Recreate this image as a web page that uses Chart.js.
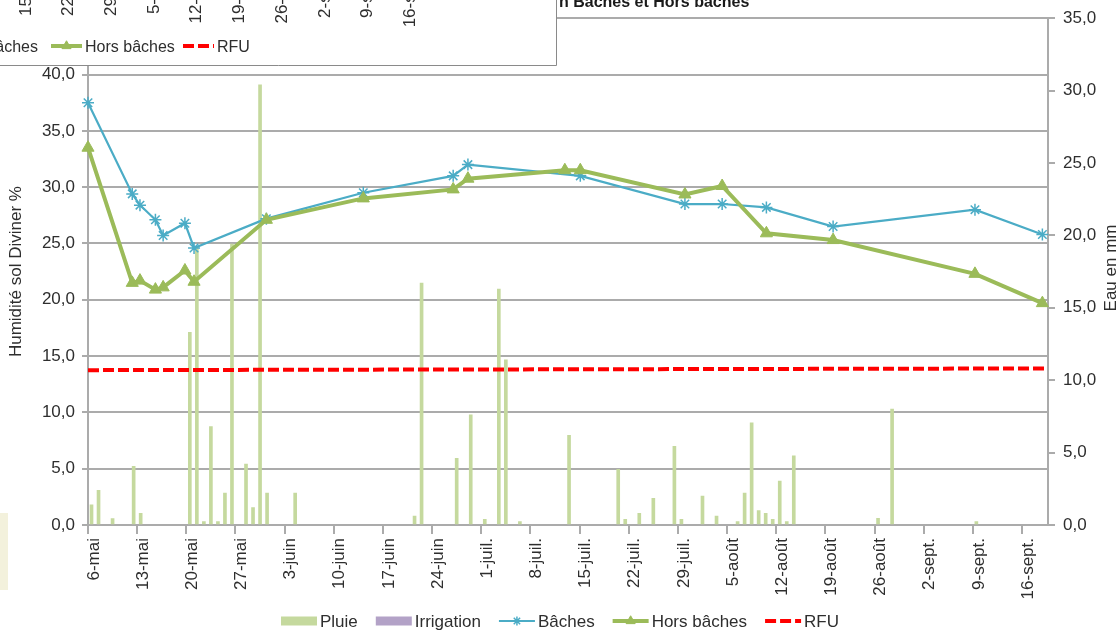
<!DOCTYPE html>
<html lang="fr">
<head>
<meta charset="utf-8">
<title>Humidité du sol - Bâches et Hors bâches</title>
<script src="https://cdn.jsdelivr.net/npm/chart.js@4.4.1/dist/chart.umd.min.js"></script>
<style>
  html, body { margin: 0; padding: 0; background: #fff; }
  #wrap { position: relative; width: 1120px; height: 630px; overflow: hidden; }
</style>
</head>
<body>
<div id="wrap"><canvas id="humChart" width="1120" height="630"></canvas></div>
<script>
// Axe des dates : jours comptés depuis le 6 mai
const tickLabels = ["6-mai", "13-mai", "20-mai", "27-mai", "3-juin", "10-juin", "17-juin", "24-juin", "1-juil.", "8-juil.",
  "15-juil.", "22-juil.", "29-juil.", "5-août", "12-août", "19-août", "26-août", "2-sept.", "9-sept.", "16-sept."];
const lastDay = 136.7;

// Pluie journalière (mm) - axe de droite
const pluieJour = [0, 1, 3, 6, 7, 14, 15, 16, 17, 18, 19, 20, 22, 23, 24, 25, 29, 46, 47, 52, 54, 56, 58, 59, 61, 68,
  75, 76, 78, 80, 83, 84, 87, 89, 92, 93, 94, 95, 96, 97, 98, 99, 100, 112, 114, 126];
const pluieMm = [1.4, 2.4, 0.45, 4.05, 0.8, 13.3, 19.2, 0.23, 6.8, 0.23, 2.2, 19.4, 4.2, 1.2, 30.4, 2.2, 2.2, 0.62, 16.7, 4.6, 7.6, 0.39, 16.3, 11.4, 0.23, 6.2,
  3.84, 0.39, 0.8, 1.84, 5.44, 0.39, 2.0, 0.62, 0.23, 2.2, 7.05, 1.0, 0.8, 0.39, 3.03, 0.23, 4.78, 0.46, 8.0, 0.23];
// pas d'irrigation sur la période
const irrigationJour = [];
const irrigationMm = [];

// Humidité Diviner (%) - axe de gauche
const bachesJour = [0, 6.3, 7.4, 9.6, 10.7, 13.8, 15.1, 25.4, 39.2, 52.0, 54.1, 70.1, 85.0, 90.3, 96.6, 106.1, 126.3, 135.9];
const baches = [37.5, 29.4, 28.4, 27.1, 25.7, 26.8, 24.6, 27.2, 29.5, 31.0, 32.0, 31.0, 28.5, 28.5, 28.2, 26.5, 28.0, 25.8];
const horsJour = [0, 6.3, 7.4, 9.6, 10.7, 13.8, 15.1, 25.4, 39.2, 52.0, 54.1, 67.9, 70.1, 85.0, 90.3, 96.6, 106.1, 126.3, 135.9];
const horsBaches = [33.5, 21.5, 21.7, 20.9, 21.1, 22.6, 21.6, 27.1, 29.0, 29.8, 30.75, 31.5, 31.5, 29.35, 30.1, 25.9, 25.3, 22.3, 19.7];
const rfuJour = [0, 136.3];
const rfu = [13.75, 13.9];

// bout de l'autre graphique collé par-dessus (coin haut gauche)
const overlayLabels = ["15-juil.", "22-juil.", "29-juil.", "5-août", "12-août", "19-août", "26-août", "2-sept.", "9-sept.", "16-sept."];

const FONT = '"Liberation Sans", Arial, sans-serif';
const TEXT = '#2e2e2e';
const GRID = '#ababab';

Chart.defaults.font.family = FONT;
Chart.defaults.color = TEXT;

const virgule = v => v.toFixed(1).replace('.', ',');
const pts = (xs, ys) => xs.map((x, i) => ({ x: x, y: ys[i] }));
// les barres sont centrées sur la journée
const barPts = (xs, ys) => xs.map((x, i) => ({ x: x + 0.5, y: ys[i] }));

function drawKey(ctx, ds, x, y, w) {
  ctx.save();
  if (ds.type === 'line') {
    ctx.strokeStyle = ds.borderColor;
    ctx.lineWidth = ds.borderWidth;
    ctx.setLineDash(ds.borderDash || []);
    ctx.beginPath(); ctx.moveTo(x, y); ctx.lineTo(x + w, y); ctx.stroke();
    ctx.setLineDash([]);
    if (ds.pointRadius) {
      ctx.fillStyle = ds.pointBackgroundColor;
      ctx.strokeStyle = ds.pointBorderColor;
      ctx.lineWidth = ds.pointBorderWidth;
      Chart.helpers.drawPoint(ctx, { pointStyle: ds.pointStyle, radius: ds.pointRadius * 0.75, borderWidth: ds.pointBorderWidth, rotation: 0 }, x + w / 2, y);
    }
  } else {
    ctx.fillStyle = ds.backgroundColor;
    ctx.fillRect(x, y - 4.5, w, 9);
  }
  ctx.restore();
}

const decorPlugin = {
  id: 'decor',
  afterDraw(chart) {
    const ctx = chart.ctx;
    const sets = chart.data.datasets;
    ctx.save();

    // légende du bas
    ctx.font = '17px ' + FONT;
    const symW = 36, txtGap = 3, itemGap = 18;
    let total = 0;
    sets.forEach((ds, i) => { total += symW + txtGap + ctx.measureText(ds.label).width + (i ? itemGap : 0); });
    let x = chart.width / 2 - total / 2;
    sets.forEach(ds => {
      drawKey(ctx, ds, x, 621, symW);
      x += symW + txtGap;
      ctx.fillStyle = TEXT; ctx.textAlign = 'left'; ctx.textBaseline = 'alphabetic';
      ctx.fillText(ds.label, x, 627);
      x += ctx.measureText(ds.label).width + itemGap;
    });

    // titre de l'axe de droite
    ctx.save();
    ctx.translate(1111, 268);
    ctx.rotate(-Math.PI / 2);
    ctx.textAlign = 'center'; ctx.textBaseline = 'middle';
    ctx.fillText('Eau en mm', 0, 0);
    ctx.restore();

    // titre coupé en haut
    ctx.font = 'bold 16px ' + FONT;
    ctx.fillStyle = '#1a1a1a';
    ctx.textAlign = 'left';
    ctx.fillText('n Bâches et Hors bâches', 559, 7);

    // cadre blanc de l'autre graphique
    ctx.fillStyle = '#ffffff';
    ctx.fillRect(0, 0, 557, 66);
    ctx.strokeStyle = '#8a8a8a'; ctx.lineWidth = 1;
    ctx.beginPath(); ctx.moveTo(0, 65.5); ctx.lineTo(556.5, 65.5); ctx.lineTo(556.5, 0); ctx.stroke();

    ctx.font = '17px ' + FONT;
    ctx.fillStyle = TEXT;
    const endY = 16 - ctx.measureText(overlayLabels[0]).width;
    overlayLabels.forEach((t, i) => {
      ctx.save();
      ctx.translate(26 + i * 42.7, endY);
      ctx.rotate(-Math.PI / 2);
      ctx.textAlign = 'right'; ctx.textBaseline = 'middle';
      ctx.fillText(t, 0, 0);
      ctx.restore();
    });

    ctx.font = '16px ' + FONT;
    ctx.textAlign = 'right';
    ctx.fillText(sets[2].label, 38, 52);
    drawKey(ctx, sets[3], 51, 46, 31);
    ctx.textAlign = 'left';
    ctx.fillStyle = TEXT;
    ctx.fillText(sets[3].label, 85, 52);
    drawKey(ctx, sets[4], 183, 46, 31);
    ctx.fillStyle = TEXT;
    ctx.fillText(sets[4].label, 217, 52);

    // petit rectangle beige à gauche
    ctx.fillStyle = '#f3f1dc';
    ctx.fillRect(0, 513, 8, 77);

    ctx.restore();
  }
};

const ctx = document.getElementById('humChart').getContext('2d');
const humChart = new Chart(ctx, {
  type: 'bar',
  data: {
    datasets: [{
      type: 'bar',
      label: 'Pluie',
      data: barPts(pluieJour, pluieMm),
      yAxisID: 'y2',
      backgroundColor: '#c5d99e',
      barThickness: 3,
      grouped: false,
      order: 10
    }, {
      type: 'bar',
      label: 'Irrigation',
      data: barPts(irrigationJour, irrigationMm),
      yAxisID: 'y2',
      backgroundColor: '#b3a2c7',
      barThickness: 3,
      grouped: false,
      order: 9
    }, {
      type: 'line',
      label: 'Bâches',
      data: pts(bachesJour, baches),
      yAxisID: 'y',
      borderColor: '#4bacc6',
      borderWidth: 2.2,
      pointStyle: 'star',
      pointRadius: 6,
      pointBorderWidth: 1.5,
      pointBorderColor: '#4bacc6',
      pointBackgroundColor: '#4bacc6',
      tension: 0,
      clip: false,
      order: 3
    }, {
      type: 'line',
      label: 'Hors bâches',
      data: pts(horsJour, horsBaches),
      yAxisID: 'y',
      borderColor: '#9bbb59',
      borderWidth: 4,
      pointStyle: 'triangle',
      pointRadius: 7,
      pointBorderWidth: 1,
      pointBorderColor: '#9bbb59',
      pointBackgroundColor: '#9bbb59',
      tension: 0,
      clip: false,
      order: 2
    }, {
      type: 'line',
      label: 'RFU',
      data: pts(rfuJour, rfu),
      yAxisID: 'y',
      borderColor: '#ff0000',
      borderWidth: 4,
      borderDash: [11, 4],
      pointRadius: 0,
      tension: 0,
      order: 1
    }]
  },
  options: {
    responsive: false,
    devicePixelRatio: 1,
    animation: false,
    layout: { padding: { top: 17, left: 0, right: 0, bottom: 0 } },
    plugins: { legend: { display: false }, tooltip: { enabled: false } },
    scales: {
      x: {
        type: 'linear',
        min: 0,
        max: lastDay,
        offset: false,
        afterBuildTicks: axis => { axis.ticks = tickLabels.map((t, i) => ({ value: i * 7 })); },
        afterFit: axis => { axis.height = 105; },
        ticks: {
          autoSkip: false,
          maxRotation: 90,
          minRotation: 90,
          padding: 4,
          labelOffset: 6,
          font: { size: 17 },
          callback: (v, i) => tickLabels[i]
        },
        grid: { display: true, drawOnChartArea: false, drawTicks: true, tickLength: 9, tickColor: GRID, offset: false, lineWidth: 2 },
        border: { display: true, color: GRID, width: 2 }
      },
      y: {
        position: 'left',
        min: 0,
        max: 45,
        afterFit: axis => { axis.width = 88; },
        ticks: { stepSize: 5, padding: 7, font: { size: 17 }, callback: v => virgule(v) },
        grid: { color: GRID, lineWidth: 2, tickLength: 6 },
        border: { display: true, color: GRID, width: 2 },
        title: { display: true, text: 'Humidité sol Diviner %', font: { size: 17 }, padding: { top: 6 } }
      },
      y2: {
        position: 'right',
        min: 0,
        max: 35,
        afterFit: axis => { axis.width = 72; },
        ticks: { stepSize: 5, padding: 8, font: { size: 17 }, callback: v => virgule(v) },
        grid: { display: true, drawOnChartArea: false, drawTicks: true, tickLength: 7, tickColor: GRID, lineWidth: 2 },
        border: { display: true, color: GRID, width: 2 }
      }
    }
  },
  plugins: [decorPlugin]
});
</script>
</body>
</html>
